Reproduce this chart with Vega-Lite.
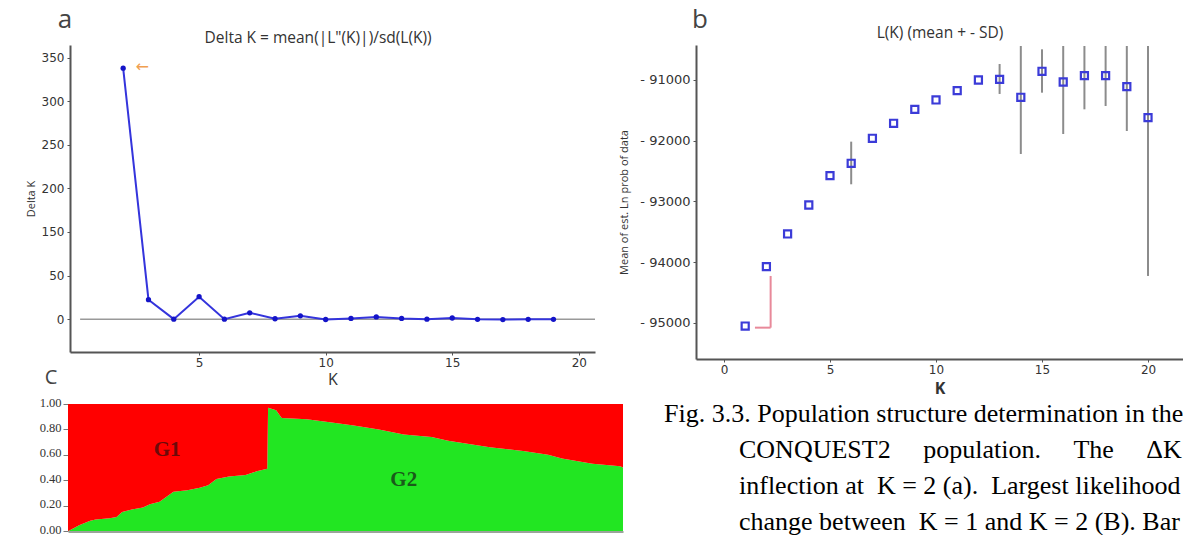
{
  "$schema": "https://vega.github.io/schema/vega-lite/v6.json",
  "width": 1183,
  "height": 535,
  "autosize": {"type": "none"},
  "padding": 0,
  "background": "white",
  "config": {
    "view": {"stroke": null},
    "axis": {"grid": false, "labelFont": "DejaVu Sans", "titleFont": "Open Sans", "domainColor": "#555", "tickColor": "#555", "labelColor": "#333", "titleColor": "#333", "titleFontWeight": "normal"}
  },
  "datasets": {
    "deltaK": [
      {"K": 2, "deltaK": 336}, {"K": 3, "deltaK": 26}, {"K": 4, "deltaK": 0}, {"K": 5, "deltaK": 30},
      {"K": 6, "deltaK": 0}, {"K": 7, "deltaK": 8.5}, {"K": 8, "deltaK": 0.5}, {"K": 9, "deltaK": 4.5},
      {"K": 10, "deltaK": -0.5}, {"K": 11, "deltaK": 1}, {"K": 12, "deltaK": 3}, {"K": 13, "deltaK": 1},
      {"K": 14, "deltaK": 0}, {"K": 15, "deltaK": 1.5}, {"K": 16, "deltaK": -0.3}, {"K": 17, "deltaK": -0.6},
      {"K": 18, "deltaK": -0.3}, {"K": 19, "deltaK": -0.3}
    ],
    "lk": [
      {"K": 1, "mean": -95050}, {"K": 2, "mean": -94073}, {"K": 3, "mean": -93535}, {"K": 4, "mean": -93058},
      {"K": 5, "mean": -92575}, {"K": 6, "mean": -92371}, {"K": 7, "mean": -91960}, {"K": 8, "mean": -91713},
      {"K": 9, "mean": -91483}, {"K": 10, "mean": -91329}, {"K": 11, "mean": -91176}, {"K": 12, "mean": -91000},
      {"K": 13, "mean": -90989}, {"K": 14, "mean": -91285}, {"K": 15, "mean": -90857}, {"K": 16, "mean": -91033},
      {"K": 17, "mean": -90929}, {"K": 18, "mean": -90929}, {"K": 19, "mean": -91110}, {"K": 20, "mean": -91620}
    ],
    "lkErr": [
      {"K": 6, "lo": -92717, "hi": -92015}, {"K": 13, "lo": -91230, "hi": -90737},
      {"K": 14, "lo": -92218, "hi": -90440}, {"K": 15, "lo": -91209, "hi": -90495},
      {"K": 16, "lo": -91889, "hi": -90440}, {"K": 17, "lo": -91483, "hi": -90440},
      {"K": 18, "lo": -91428, "hi": -90440}, {"K": 19, "lo": -91840, "hi": -90440},
      {"K": 20, "lo": -94226, "hi": -90440}
    ],
    "admix": [
      {"ind": 0, "q": 0.0}, {"ind": 1, "q": 0.01}, {"ind": 4, "q": 0.045}, {"ind": 8, "q": 0.08},
      {"ind": 10, "q": 0.09}, {"ind": 15, "q": 0.1}, {"ind": 17.5, "q": 0.11}, {"ind": 19.5, "q": 0.15},
      {"ind": 23, "q": 0.17}, {"ind": 27, "q": 0.185}, {"ind": 29.5, "q": 0.21}, {"ind": 33, "q": 0.23},
      {"ind": 35.5, "q": 0.27}, {"ind": 38, "q": 0.31}, {"ind": 43, "q": 0.32}, {"ind": 47.5, "q": 0.34},
      {"ind": 50.5, "q": 0.36}, {"ind": 53.5, "q": 0.41}, {"ind": 58, "q": 0.43}, {"ind": 64, "q": 0.44},
      {"ind": 68, "q": 0.47}, {"ind": 71.8, "q": 0.49}, {"ind": 72.1, "q": 0.97}, {"ind": 75, "q": 0.95},
      {"ind": 77, "q": 0.89}, {"ind": 86, "q": 0.88}, {"ind": 93, "q": 0.86}, {"ind": 103, "q": 0.83},
      {"ind": 112, "q": 0.8}, {"ind": 121, "q": 0.76}, {"ind": 131, "q": 0.74}, {"ind": 137, "q": 0.71},
      {"ind": 152, "q": 0.66}, {"ind": 164, "q": 0.63}, {"ind": 173, "q": 0.6}, {"ind": 178, "q": 0.57},
      {"ind": 189, "q": 0.53}, {"ind": 199, "q": 0.51}, {"ind": 200, "q": 0.5}
    ],
    "captionFirst": [
      {"line": 1, "text": "Fig. 3.3. Population structure determination in the"}
    ],
    "captionRest": [
      {"line": 2, "text": "CONQUEST2\u00a0\u00a0\u00a0\u00a0\u00a0population.\u00a0\u00a0\u00a0\u00a0\u00a0The\u00a0\u00a0\u00a0\u00a0\u00a0ΔK"},
      {"line": 3, "text": "inflection at\u00a0 K = 2 (a).\u00a0 Largest likelihood"},
      {"line": 4, "text": "change between\u00a0 K = 1 and K = 2 (B). Bar"}
    ]
  },
  "layer": [
    {
      "layer": [
        {
          "data": {"values": [{}]},
          "mark": {"type": "rule", "color": "#999", "strokeWidth": 1.5},
          "encoding": {
            "x": {"datum": 0.3, "type": "quantitative",
              "scale": {"domain": [-0.1, 20.64], "range": [70, 595], "nice": false, "zero": false},
              "axis": {"orient": "bottom", "offset": -183, "values": [5, 10, 15, 20], "format": "d", "title": "K", "titleFontSize": 16, "titlePadding": 3, "labelFontSize": 12, "tickSize": 3, "domainWidth": 2, "labelPadding": 2}},
            "x2": {"datum": 20.64},
            "y": {"datum": 0, "type": "quantitative",
              "scale": {"domain": [-44, 367], "range": [352, 45], "nice": false, "zero": false},
              "axis": {"orient": "left", "offset": -70, "values": [0, 58.333, 116.667, 175, 233.333, 291.667, 350],
                "labelExpr": "datum.value < 1 ? '0' : datum.value < 60 ? '50' : datum.value < 120 ? '150' : datum.value < 180 ? '200' : datum.value < 240 ? '250' : datum.value < 300 ? '300' : '350'",
                "title": "Delta K", "titleFontSize": 11, "tickSize": 3, "domainWidth": 2, "labelFontSize": 12, "labelPadding": 3, "titlePadding": 5}}
          }
        },
        {
          "data": {"name": "deltaK"},
          "mark": {"type": "line", "color": "#3434dc", "strokeWidth": 2},
          "encoding": {
            "x": {"field": "K", "type": "quantitative"},
            "y": {"field": "deltaK", "type": "quantitative"}
          }
        },
        {
          "data": {"name": "deltaK"},
          "mark": {"type": "point", "filled": true, "color": "#1414c8", "size": 28, "opacity": 1},
          "encoding": {
            "x": {"field": "K", "type": "quantitative"},
            "y": {"field": "deltaK", "type": "quantitative"}
          }
        },
        {
          "data": {"values": [{}]},
          "mark": {"type": "text", "text": "←", "color": "#f0a050", "fontSize": 16, "font": "DejaVu Sans", "baseline": "middle", "align": "center"},
          "encoding": {
            "x": {"datum": 2.75, "type": "quantitative"},
            "y": {"datum": 337.5, "type": "quantitative"}
          }
        },
        {
          "data": {"values": [{}]},
          "mark": {"type": "text", "text": "Delta K = mean(|L\"(K)|)/sd(L(K))", "color": "#333", "fontSize": 15.5, "font": "Open Sans", "baseline": "middle", "align": "center"},
          "encoding": {
            "x": {"datum": 9.7, "type": "quantitative"},
            "y": {"datum": 376, "type": "quantitative"}
          }
        },
        {
          "data": {"values": [{}]},
          "mark": {"type": "text", "text": "a", "color": "#444", "fontSize": 26, "font": "Open Sans", "baseline": "middle", "align": "center"},
          "encoding": {
            "x": {"datum": -0.3, "type": "quantitative"},
            "y": {"datum": 401, "type": "quantitative"}
          }
        }
      ]
    },
    {
      "layer": [
        {
          "data": {"name": "lkErr"},
          "mark": {"type": "rule", "color": "#8c8c8c", "strokeWidth": 2},
          "encoding": {
            "x": {"field": "K", "type": "quantitative",
              "scale": {"domain": [-1.32, 21.65], "range": [696, 1183], "nice": false, "zero": false},
              "axis": {"orient": "bottom", "offset": -176, "values": [0, 5, 10, 15, 20], "format": "d", "title": "K", "titleFontSize": 16, "titleFontWeight": "bold", "titlePadding": 5, "labelFontSize": 12, "tickSize": 3, "domainWidth": 2, "labelPadding": 2}},
            "y": {"field": "lo", "type": "quantitative",
              "scale": {"domain": [-95593, -90424], "range": [359, 45], "nice": false, "zero": false},
              "axis": {"orient": "left", "offset": -696, "values": [-95000, -94000, -93000, -92000, -91000],
                "labelExpr": "'- ' + format(-datum.value, 'd')",
                "title": "Mean of est. Ln prob of data", "titleFontSize": 11, "tickSize": 3, "domainWidth": 2, "labelFontSize": 13, "labelPadding": 3, "titlePadding": 10}},
            "y2": {"field": "hi"}
          }
        },
        {
          "data": {"values": [{}]},
          "mark": {"type": "rule", "color": "#e8899a", "strokeWidth": 2},
          "encoding": {
            "x": {"datum": 1.46, "type": "quantitative"},
            "x2": {"datum": 2.2},
            "y": {"datum": -95077, "type": "quantitative"}
          }
        },
        {
          "data": {"values": [{}]},
          "mark": {"type": "rule", "color": "#e8899a", "strokeWidth": 2},
          "encoding": {
            "x": {"datum": 2.2, "type": "quantitative"},
            "y": {"datum": -95077, "type": "quantitative"},
            "y2": {"datum": -94226}
          }
        },
        {
          "data": {"name": "lk"},
          "mark": {"type": "point", "shape": "square", "filled": false, "color": "#3b3bd8", "strokeWidth": 2.2, "size": 50, "opacity": 1},
          "encoding": {
            "x": {"field": "K", "type": "quantitative"},
            "y": {"field": "mean", "type": "quantitative"}
          }
        },
        {
          "data": {"values": [{}]},
          "mark": {"type": "text", "text": "L(K) (mean + - SD)", "color": "#333", "fontSize": 15.5, "font": "Open Sans", "baseline": "middle", "align": "center"},
          "encoding": {
            "x": {"datum": 10.19, "type": "quantitative"},
            "y": {"datum": -90226, "type": "quantitative"}
          }
        },
        {
          "data": {"values": [{}]},
          "mark": {"type": "text", "text": "b", "color": "#444", "fontSize": 26, "font": "Open Sans", "baseline": "middle", "align": "center"},
          "encoding": {
            "x": {"datum": -1.13, "type": "quantitative"},
            "y": {"datum": -90012, "type": "quantitative"}
          }
        }
      ]
    },
    {
      "layer": [
        {
          "data": {"name": "admix"},
          "mark": {"type": "area", "color": "#22e622", "interpolate": "linear", "opacity": 1},
          "encoding": {
            "x": {"field": "ind", "type": "quantitative",
              "scale": {"domain": [0, 200], "range": [68, 623], "nice": false, "zero": false},
              "axis": {"orient": "bottom", "offset": -3.5, "labels": false, "ticks": false, "title": null, "domainColor": "#9aa49a", "domainWidth": 2}},
            "y": {"field": "q", "type": "quantitative",
              "scale": {"domain": [0, 1], "range": [531, 404], "nice": false, "zero": false},
              "axis": {"orient": "left", "offset": -68, "values": [0, 0.2, 0.4, 0.6, 0.8, 1], "format": ".2f", "title": null,
                "labelFont": "Liberation Serif", "labelFontSize": 12.5, "labelColor": "#333", "labelOffset": -2, "tickSize": 5, "tickColor": "#777", "domainColor": "#999", "domainWidth": 1, "labelPadding": 2}}
          }
        },
        {
          "data": {"name": "admix"},
          "mark": {"type": "area", "color": "#ff0000", "interpolate": "linear", "opacity": 1},
          "encoding": {
            "x": {"field": "ind", "type": "quantitative"},
            "y": {"field": "q", "type": "quantitative"},
            "y2": {"datum": 1}
          }
        },
        {
          "data": {"values": [{}]},
          "mark": {"type": "text", "text": "G1", "color": "#6b0a0a", "fontSize": 21, "font": "Liberation Serif", "fontWeight": "bold", "baseline": "middle", "align": "center"},
          "encoding": {
            "x": {"datum": 35.7, "type": "quantitative"},
            "y": {"datum": 0.64, "type": "quantitative"}
          }
        },
        {
          "data": {"values": [{}]},
          "mark": {"type": "text", "text": "G2", "color": "#1a5a1a", "fontSize": 21, "font": "Liberation Serif", "fontWeight": "bold", "baseline": "middle", "align": "center"},
          "encoding": {
            "x": {"datum": 121, "type": "quantitative"},
            "y": {"datum": 0.4, "type": "quantitative"}
          }
        },
        {
          "data": {"values": [{}]},
          "mark": {"type": "text", "text": "C", "color": "#444", "fontSize": 20, "font": "Open Sans", "baseline": "middle", "align": "center"},
          "encoding": {
            "x": {"datum": -6.1, "type": "quantitative"},
            "y": {"datum": 1.205, "type": "quantitative"}
          }
        }
      ]
    },
    {
      "layer": [
        {
          "data": {"name": "captionFirst"},
          "mark": {"type": "text", "align": "left", "baseline": "middle", "font": "Liberation Serif", "fontSize": 26, "color": "#000"},
          "encoding": {
            "x": {"datum": 0, "type": "quantitative", "scale": {"domain": [0, 1], "range": [664, 739], "nice": false, "zero": false}, "axis": null},
            "y": {"field": "line", "type": "quantitative", "scale": {"domain": [1, 4], "range": [414, 522], "nice": false, "zero": false}, "axis": null},
            "text": {"field": "text"}
          }
        },
        {
          "data": {"name": "captionRest"},
          "mark": {"type": "text", "align": "left", "baseline": "middle", "font": "Liberation Serif", "fontSize": 26, "color": "#000"},
          "encoding": {
            "x": {"datum": 1, "type": "quantitative", "axis": null},
            "y": {"field": "line", "type": "quantitative", "axis": null},
            "text": {"field": "text"}
          }
        }
      ]
    }
  ],
  "resolve": {
    "scale": {"x": "independent", "y": "independent"},
    "axis": {"x": "independent", "y": "independent"}
  }
}
